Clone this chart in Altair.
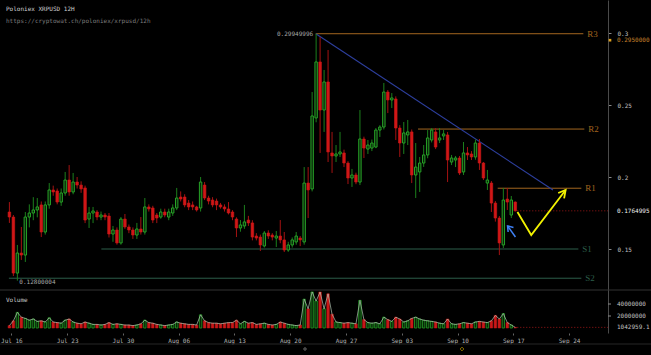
import altair as alt
import pandas as pd

# ---------------- data ----------------
opens = [0.1757, 0.1722, 0.1333, 0.1472, 0.1458, 0.1722, 0.1750, 0.1771, 0.1806, 0.1618,
         0.1806, 0.1910, 0.1903, 0.1826, 0.1889, 0.1979, 0.1896, 0.1965, 0.1944, 0.1924,
         0.1708, 0.1750, 0.1757, 0.1722, 0.1736, 0.1729, 0.1604, 0.1632, 0.1542, 0.1708,
         0.1653, 0.1632, 0.1597, 0.1639, 0.1618, 0.1792, 0.1785, 0.1736, 0.1722, 0.1757,
         0.1722, 0.1750, 0.1785, 0.1861, 0.1861, 0.1819, 0.1806, 0.1792, 0.1785, 0.1944,
         0.1854, 0.1840, 0.1833, 0.1806, 0.1792, 0.1778, 0.1757, 0.1708, 0.1646, 0.1660,
         0.1701, 0.1681, 0.1590, 0.1583, 0.1521, 0.1611, 0.1597, 0.1576, 0.1590, 0.1563,
         0.1493, 0.1528, 0.1549, 0.1576, 0.1549, 0.1958, 0.1917, 0.2410, 0.2799, 0.2465,
         0.2660, 0.2167, 0.2146, 0.2160, 0.2167, 0.2097, 0.1993, 0.2014, 0.1965, 0.2264,
         0.2194, 0.2201, 0.2208, 0.2326, 0.2347, 0.2590, 0.2535, 0.2542, 0.2340, 0.2236,
         0.2292, 0.2313, 0.2014, 0.2035, 0.2097, 0.2153, 0.2257, 0.2313, 0.2257, 0.2285,
         0.2292, 0.2104, 0.2118, 0.2132, 0.2035, 0.2167, 0.2160, 0.2139, 0.2236, 0.2097,
         0.1958, 0.1958, 0.1819, 0.1715, 0.1528, 0.1847, 0.1736, 0.1826]
highs = [0.1826, 0.1736, 0.1528, 0.1653, 0.1757, 0.1810, 0.1860, 0.1854, 0.1830, 0.1830,
         0.1958, 0.1940, 0.1920, 0.1920, 0.2035, 0.2083, 0.2028, 0.2000, 0.1970, 0.1940,
         0.1792, 0.1792, 0.1770, 0.1760, 0.1750, 0.1750, 0.1660, 0.1650, 0.1722, 0.1743,
         0.1670, 0.1650, 0.1681, 0.1722, 0.1854, 0.1810, 0.1800, 0.1750, 0.1780, 0.1780,
         0.1780, 0.1810, 0.1924, 0.1900, 0.1880, 0.1840, 0.1830, 0.1800, 0.2000, 0.1965,
         0.1870, 0.1860, 0.1850, 0.1820, 0.1810, 0.1826, 0.1770, 0.1720, 0.1701, 0.1806,
         0.1730, 0.1700, 0.1610, 0.1600, 0.1625, 0.1630, 0.1610, 0.1625, 0.1701, 0.1618,
         0.1550, 0.1580, 0.1618, 0.1590, 0.2069, 0.2069, 0.2590, 0.29949996, 0.2972, 0.2743,
         0.2882, 0.2313, 0.2222, 0.2313, 0.2190, 0.2110, 0.2056, 0.2030, 0.2465, 0.2280,
         0.2257, 0.2260, 0.2340, 0.2360, 0.2653, 0.2604, 0.2583, 0.2560, 0.2360, 0.2382,
         0.2396, 0.2330, 0.2236, 0.2139, 0.2222, 0.2326, 0.2340, 0.2340, 0.2340, 0.2326,
         0.2313, 0.2153, 0.2146, 0.2146, 0.2243, 0.2208, 0.2180, 0.2260, 0.2264, 0.2104,
         0.2049, 0.1972, 0.1833, 0.1729, 0.1924, 0.1924, 0.1868, 0.1830]
lows = [0.1681, 0.1312, 0.12800004, 0.1424, 0.1410, 0.1650, 0.1700, 0.1720, 0.1583, 0.1600,
        0.1780, 0.1870, 0.1810, 0.1800, 0.1870, 0.1870, 0.1880, 0.1920, 0.1890, 0.1680,
        0.1646, 0.1680, 0.1700, 0.1700, 0.1700, 0.1580, 0.1550, 0.1530, 0.1530, 0.1640,
        0.1610, 0.1570, 0.1570, 0.1600, 0.1600, 0.1760, 0.1680, 0.1680, 0.1710, 0.1720,
        0.1700, 0.1730, 0.1770, 0.1830, 0.1790, 0.1770, 0.1770, 0.1760, 0.1760, 0.1840,
        0.1810, 0.1790, 0.1770, 0.1780, 0.1760, 0.1740, 0.1700, 0.1583, 0.1620, 0.1640,
        0.1660, 0.1560, 0.1560, 0.1486, 0.1510, 0.1570, 0.1560, 0.1514, 0.1540, 0.1479,
        0.1480, 0.1510, 0.1530, 0.1520, 0.1530, 0.1715, 0.1900, 0.2380, 0.2167, 0.2313,
        0.2104, 0.2028, 0.2104, 0.2139, 0.2069, 0.1951, 0.1931, 0.1950, 0.1944, 0.2132,
        0.2160, 0.2180, 0.2200, 0.2278, 0.2330, 0.2444, 0.2479, 0.2257, 0.2139, 0.2160,
        0.2222, 0.1958, 0.1854, 0.1896, 0.2070, 0.2130, 0.2240, 0.2194, 0.2236, 0.2257,
        0.1965, 0.2083, 0.2069, 0.2014, 0.2014, 0.2118, 0.2118, 0.2120, 0.2049, 0.1979,
        0.1910, 0.1757, 0.1690, 0.1458, 0.1507, 0.1771, 0.1715, 0.1760]
closes = [0.1722, 0.1333, 0.1472, 0.1458, 0.1722, 0.1750, 0.1771, 0.1792, 0.1618, 0.1806,
          0.1910, 0.1896, 0.1826, 0.1889, 0.1979, 0.1896, 0.1965, 0.1944, 0.1917, 0.1701,
          0.1750, 0.1764, 0.1722, 0.1736, 0.1722, 0.1604, 0.1632, 0.1542, 0.1708, 0.1653,
          0.1632, 0.1597, 0.1639, 0.1618, 0.1792, 0.1778, 0.1701, 0.1715, 0.1757, 0.1736,
          0.1757, 0.1785, 0.1854, 0.1847, 0.1806, 0.1792, 0.1792, 0.1771, 0.1965, 0.1854,
          0.1833, 0.1806, 0.1806, 0.1792, 0.1778, 0.1750, 0.1722, 0.1646, 0.1667, 0.1688,
          0.1681, 0.1583, 0.1576, 0.1528, 0.1611, 0.1590, 0.1583, 0.1590, 0.1563, 0.1493,
          0.1528, 0.1563, 0.1590, 0.1563, 0.1958, 0.1910, 0.2424, 0.2799, 0.2465, 0.2660,
          0.2174, 0.2146, 0.2160, 0.2174, 0.2097, 0.1993, 0.2014, 0.1965, 0.2264, 0.2201,
          0.2222, 0.2236, 0.2326, 0.2347, 0.2590, 0.2535, 0.2549, 0.2340, 0.2236, 0.2306,
          0.2313, 0.2014, 0.2069, 0.2097, 0.2153, 0.2271, 0.2326, 0.2208, 0.2271, 0.2299,
          0.2118, 0.2132, 0.2132, 0.2028, 0.2167, 0.2153, 0.2139, 0.2236, 0.2097, 0.1993,
          0.1979, 0.1819, 0.1715, 0.1542, 0.1840, 0.1826, 0.1840, 0.1764995]
volumes_m = [4, 12, 26, 18, 16, 13, 15, 11, 12, 10,
             17, 10, 9, 8, 13, 15, 10, 8, 7, 10,
             8, 6, 6, 5, 6, 9, 6, 7, 6, 5,
             5, 4, 5, 7, 13, 9, 8, 6, 5, 4,
             5, 6, 10, 8, 7, 6, 6, 5, 22, 12,
             9, 8, 8, 7, 8, 9, 9, 13, 7, 11,
             8, 9, 6, 7, 8, 6, 5, 6, 10, 8,
             6, 5, 4, 5, 48, 32, 60, 45, 60, 32,
             57, 23, 10, 9, 8, 9, 8, 7, 46, 14,
             9, 8, 9, 7, 18, 14, 11, 18, 15, 10,
             12, 16, 18, 15, 13, 12, 11, 10, 8, 7,
             15, 7, 6, 7, 9, 8, 7, 10, 11, 10,
             9, 12, 21, 15, 24, 9, 5, 1.0429591]

# horizontal support / resistance levels
level_names = ["R3", "R2", "R1", "S1", "S2"]
level_kind = ["R", "R", "R", "S", "S"]
level_values = [0.29949996, 0.2333, 0.1922, 0.1500, 0.1297]
level_start = ["2018-08-23 05:00", "2018-09-05 01:00", "2018-09-15 01:00", "2018-07-27 07:00", "2018-07-15 16:30"]
level_end = ["2018-09-25 19:00", "2018-09-25 22:00", "2018-09-25 13:00", "2018-09-25 04:00", "2018-09-25 13:00"]

# descending trend line
trend_t = ["2018-08-23 05:00", "2018-09-21 23:30"]
trend_p = [0.29949996, 0.1910]

# yellow projection path and its arrow head
yellow_t = ["2018-09-17 12:30", "2018-09-19 06:00", "2018-09-23 13:40",
            "2018-09-22 15:20", "2018-09-23 13:40", "2018-09-23 09:05"]
yellow_p = [0.1757, 0.1597, 0.1910, 0.1889, 0.1910, 0.1852]
yellow_g = ["path", "path", "path", "head", "head", "head"]

# small blue arrow
blue_t = ["2018-09-17 06:30", "2018-09-16 06:45", "2018-09-17 00:30", "2018-09-16 06:45", "2018-09-16 08:25"]
blue_p = [0.1583, 0.1660, 0.1649, 0.1660, 0.1618]
blue_g = ["shaft", "shaft", "head", "head", "head"]

x_tick_dates = ["2018-07-16", "2018-07-23", "2018-07-30", "2018-08-06", "2018-08-13", "2018-08-20",
                "2018-08-27", "2018-09-03", "2018-09-10", "2018-09-17", "2018-09-24"]
price_ticks = [0.15, 0.2, 0.25, 0.3]
last_price = 0.1764995
alert_price = 0.295
vol_tick_values = [40000000, 20000000, 1042959.1]
vol_tick_labels = ["40000000", "20000000", "1042959.1"]

# ---------------- layout constants ----------------
W, H = 608, 333
FONT = "DejaVu Sans Mono"
GREEN, GREEN_W, GREEN_FILL = "#27a327", "#1c7f1c", "#0a250a"
RED, RED_W = "#d01717", "#a51212"
ORANGE_LINE, ORANGE_TXT = "#a3661f", "#c9822c"
S_LINE, S_TXT = "#2c5e4a", "#3b8d5e"

times = pd.date_range("2018-07-15 18:00", periods=len(opens), freq="12h")
df = pd.DataFrame({"t": times, "open": opens, "high": highs, "low": lows,
                   "close": closes, "volume": [v * 1e6 for v in volumes_m]})

ref = pd.Timestamp("2018-07-16")
PX0, PXD = 6.5, 8.1  # x pixel of Jul 16 and pixels per day


def t_at(px):
    return ref + pd.Timedelta(days=(px - PX0) / PXD)


def dt(ts):
    ts = pd.Timestamp(ts)
    return alt.DateTime(year=ts.year, month=ts.month, date=ts.day,
                        hours=ts.hour, minutes=ts.minute, seconds=ts.second)


xscale = alt.Scale(domain=[dt(t_at(0)), dt(t_at(W))])
xaxis = alt.Axis(values=[dt(s) for s in x_tick_dates], format="%b %d", title=None,
                 labelColor="#b5b5b5", labelFont=FONT, labelFontSize=6, tickColor="#666",
                 tickSize=2, domain=False, grid=False, labelPadding=2, labelFlush=False,
                 labelOverlap=False)
X = alt.X("t:T", scale=xscale, axis=xaxis)

# price scale: 0.3 at y=33, 1440 px per unit
p_hi = 0.3 + 33 / 1440
p_lo = 0.3 - (H - 33) / 1440
yscale = alt.Scale(domain=[p_lo, p_hi], nice=False, zero=False)
yaxis = alt.Axis(orient="right", values=price_ticks, format=".2~f", title=None,
                 labelColor="#c0c0c0", labelFont=FONT, labelFontSize=6, tickColor="#888",
                 tickSize=3, domainColor="#4a4a4a", grid=False, labelPadding=6)


def Y(field):
    return alt.Y(field, scale=yscale, axis=yaxis)


# volume scale: baseline y=328, 12 px per 20M
vpx = 12 / 20e6
vscale = alt.Scale(domain=[-(H - 328) / vpx, 328 / vpx], nice=False, zero=False)


def VY(field):
    return alt.Y(field, scale=vscale, axis=None)


base = alt.Chart(df)
up = "datum.close >= datum.open"
dn = "datum.close < datum.open"

wick_up = base.transform_filter(up).mark_rule(color=GREEN_W, strokeWidth=1).encode(x=X, y=Y("low:Q"), y2="high:Q")
wick_dn = base.transform_filter(dn).mark_rule(color=RED_W, strokeWidth=1).encode(x=X, y=Y("low:Q"), y2="high:Q")
body_up = base.transform_filter(up).mark_bar(size=2.4, fill=GREEN_FILL, stroke=GREEN, strokeWidth=1).encode(
    x=X, y=Y("open:Q"), y2="close:Q")
body_dn = base.transform_filter(dn).mark_bar(size=2.6, fill=RED, stroke=RED, strokeWidth=0.6).encode(
    x=X, y=Y("open:Q"), y2="close:Q")

lv = pd.DataFrame({"name": level_names, "kind": level_kind, "p": level_values,
                   "t0": pd.to_datetime(level_start), "t1": pd.to_datetime(level_end)})
levels = alt.Chart(lv).mark_rule(strokeWidth=1).encode(
    x=alt.X("t0:T", scale=xscale, axis=xaxis), x2="t1:T", y=Y("p:Q"),
    color=alt.Color("kind:N", scale=alt.Scale(domain=["R", "S"], range=[ORANGE_LINE, S_LINE]), legend=None))
level_lbl = alt.Chart(lv).mark_text(align="left", baseline="middle", dx=4, font="Liberation Serif",
                                    fontSize=9).encode(
    x=alt.X("t1:T", scale=xscale, axis=xaxis), y=Y("p:Q"), text="name:N",
    color=alt.Color("kind:N", scale=alt.Scale(domain=["R", "S"], range=[ORANGE_TXT, S_TXT]), legend=None))

hi_lbl = base.transform_window(r="rank()", sort=[alt.SortField("high", order="descending")]).transform_filter(
    "datum.r == 1").mark_text(align="right", baseline="middle", dx=-3, font=FONT, fontSize=6,
                             color="#a8a8a8").encode(x=X, y=Y("high:Q"), text=alt.Text("high:Q", format=".8f"))
lo_lbl = base.transform_window(r="rank()", sort=[alt.SortField("low", order="ascending")]).transform_filter(
    "datum.r == 1").mark_text(align="left", baseline="top", dx=2, dy=-2, font=FONT, fontSize=6,
                             color="#a8a8a8").encode(x=X, y=Y("low:Q"), text=alt.Text("low:Q", format=".8f"))

trend = alt.Chart(pd.DataFrame({"t": pd.to_datetime(trend_t), "p": trend_p})).mark_line(
    color="#2d3f9e", strokeWidth=1.1).encode(x=X, y=Y("p:Q"))

ydf = pd.DataFrame({"t": pd.to_datetime(yellow_t), "p": yellow_p, "g": yellow_g, "k": list(range(len(yellow_t)))})
yellow = alt.Chart(ydf).mark_line(color="#f2f200", strokeWidth=1.8).encode(
    x=X, y=Y("p:Q"), detail="g:N", order="k:Q")
bdf = pd.DataFrame({"t": pd.to_datetime(blue_t), "p": blue_p, "g": blue_g, "k": list(range(len(blue_t)))})
blue = alt.Chart(bdf).mark_line(color="#3f80f4", strokeWidth=1.5).encode(
    x=X, y=Y("p:Q"), detail="g:N", order="k:Q")

cur = pd.DataFrame({"t": [times[-1] + pd.Timedelta(hours=6)], "p": [last_price], "v": [vol_tick_values[-1]]})
cur_rule = alt.Chart(cur).mark_rule(color="#9a1515", strokeWidth=1, strokeDash=[1, 2]).encode(
    x=X, x2=alt.value(W), y=Y("p:Q"))

side = pd.DataFrame({"p": [alert_price, last_price], "label": ["0.2950000", "0.1764995"],
                     "col": [ORANGE_TXT, "#f0f0f0"]})
side_lbl = alt.Chart(side).mark_text(align="left", baseline="middle", font=FONT, fontSize=6).encode(
    x=alt.value(617), y=Y("p:Q"), text="label:N", color=alt.Color("col:N", scale=None))
side_mark = alt.Chart(side.iloc[:1]).mark_square(size=7, color="#e0a21e", opacity=1).encode(
    x=alt.value(610), y=Y("p:Q"))

titles = pd.DataFrame({"a": [0]})
title1 = alt.Chart(titles).mark_text(align="left", baseline="middle", font=FONT, fontSize=6,
                                     color="#d0d0d0", text="Poloniex XRPUSD 12H").encode(
    x=alt.value(6), y=alt.value(9))
title2 = alt.Chart(titles).mark_text(align="left", baseline="middle", font=FONT, fontSize=6,
                                     color="#7c7c7c", text="https://cryptowat.ch/poloniex/xrpusd/12h").encode(
    x=alt.value(6), y=alt.value(21))
sep1 = alt.Chart(titles).mark_rule(color="#333333", strokeWidth=1).encode(
    x=alt.value(0), x2=alt.value(651), y=alt.value(290))
sep2 = alt.Chart(titles).mark_rule(color="#262626", strokeWidth=1).encode(
    x=alt.value(0), x2=alt.value(651), y=alt.value(344))
nav1 = alt.Chart(titles).mark_point(shape="circle", size=6, color="#bbbbbb", strokeWidth=0.8).encode(
    x=alt.value(305), y=alt.value(349))
nav2 = alt.Chart(titles).mark_point(shape="diamond", size=14, color="#d8b000", strokeWidth=0.9).encode(
    x=alt.value(462), y=alt.value(349))

price = alt.layer(sep1, sep2, levels, level_lbl, trend, wick_up, wick_dn, body_up, body_dn,
                  hi_lbl, lo_lbl, cur_rule, yellow, blue, side_lbl, side_mark, title1, title2, nav1, nav2)

# ---------------- volume panel ----------------
vbase = base.transform_calculate(zero="0")
vol_up = vbase.transform_filter(up).mark_bar(size=2.4, fill=GREEN_FILL, stroke="#208f20", strokeWidth=0.9).encode(
    x=X, y=VY("volume:Q"), y2="zero:Q")
vol_dn = vbase.transform_filter(dn).mark_bar(size=2.6, fill="#c81818", stroke="#c81818", strokeWidth=0.5).encode(
    x=X, y=VY("volume:Q"), y2="zero:Q")
vol_line = base.mark_line(color="#b9cdb9", strokeWidth=0.8, opacity=0.85).encode(x=X, y=VY("volume:Q"))
vol_rule = alt.Chart(cur).mark_rule(color="#9a1515", strokeWidth=1, strokeDash=[1, 2]).encode(
    x=X, x2=alt.value(W), y=VY("v:Q"))
vt = pd.DataFrame({"v": vol_tick_values, "label": vol_tick_labels})
vol_ticks = alt.Chart(vt.iloc[:2]).mark_rule(color="#888888").encode(
    x=alt.value(W), x2=alt.value(W + 3), y=VY("v:Q"))
vol_lbl = alt.Chart(vt).mark_text(align="left", baseline="middle", font=FONT, fontSize=6, color="#c0c0c0").encode(
    x=alt.value(617), y=VY("v:Q"), text="label:N")
vol_title = alt.Chart(titles).mark_text(align="left", baseline="middle", font=FONT, fontSize=6,
                                        color="#c8c8c8", text="Volume").encode(x=alt.value(6), y=alt.value(300))

volume = alt.layer(vol_up, vol_dn, vol_line, vol_rule, vol_ticks, vol_lbl, vol_title)

chart = alt.layer(price, volume).resolve_scale(y="independent").properties(
    width=W, height=H, background="#000000",
    padding={"left": 0, "top": 0, "right": 651 - W, "bottom": 355 - H},
    autosize=alt.AutoSizeParams(type="none"),
).configure_view(strokeWidth=0)

chart.save("out.html", embed_options={"renderer": "svg", "actions": False})
